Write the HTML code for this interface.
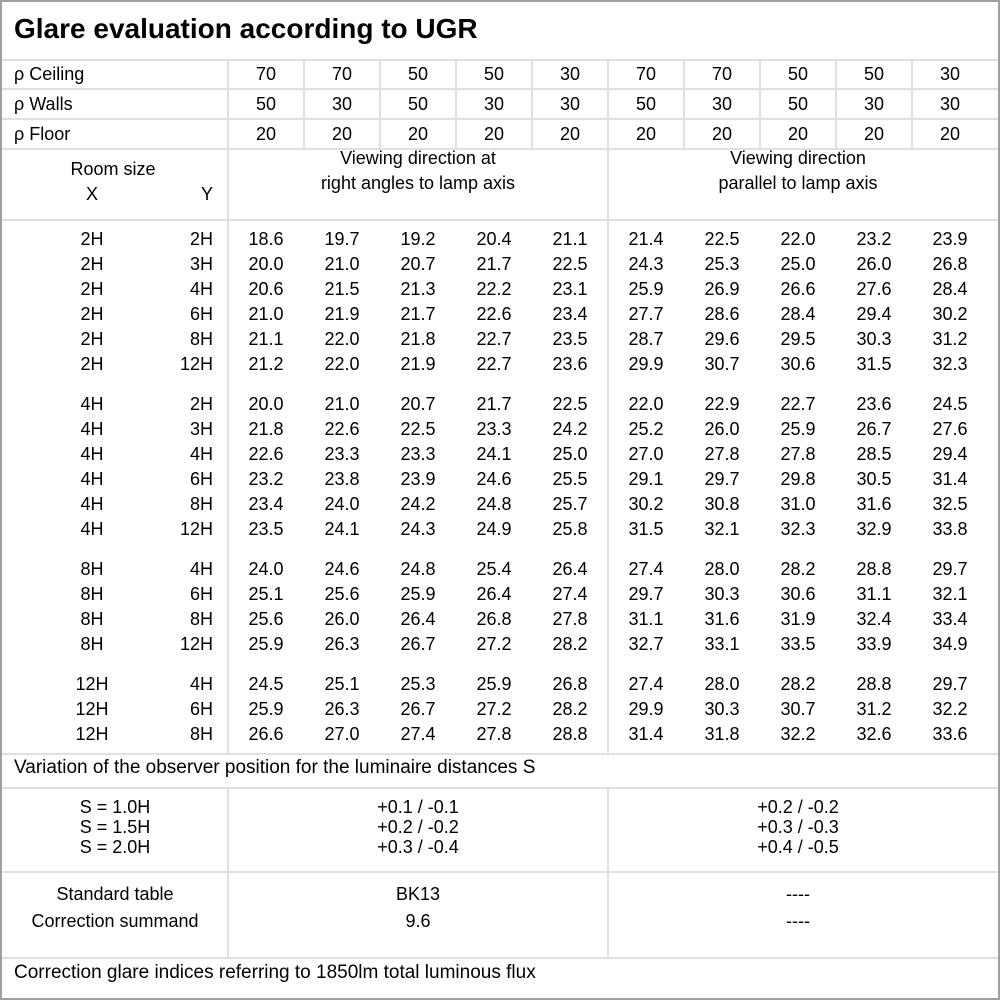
<!DOCTYPE html>
<html><head><meta charset="utf-8"><style>
*{margin:0;padding:0}
body{width:1000px;height:1000px;background:#fff;position:relative;overflow:hidden;font-family:"Liberation Sans","DejaVu Sans",sans-serif;font-size:18px;color:#000}
.b{position:absolute;left:0;top:0;width:996px;height:996px;border:2px solid #a0a0a0}
.h{position:absolute;left:2px;width:996px;height:2px;background:#e0e0e0}
.v{position:absolute;width:2px;background:#e0e0e0}
.t{position:absolute;line-height:22px;white-space:nowrap}
.r{position:absolute;left:0;width:1000px;height:22px}
.r span{position:absolute;top:0;line-height:22px;width:80px;text-align:center}
.r .x{left:52px}.r .y{left:133px;text-align:right}
.c1{left:226px}.c2{left:302px}.c3{left:378px}.c4{left:454px}.c5{left:530px}
.c6{left:606px}.c7{left:682px}.c8{left:758px}.c9{left:834px}.c10{left:910px}
.cen{position:absolute;text-align:center;line-height:20px}
</style></head><body>
<div class="b"></div>
<div class="h" style="top:59px"></div>
<div class="h" style="top:88px"></div>
<div class="h" style="top:118px"></div>
<div class="h" style="top:148px"></div>
<div class="h" style="top:219px"></div>
<div class="h" style="top:753px"></div>
<div class="h" style="top:787px"></div>
<div class="h" style="top:871px"></div>
<div class="h" style="top:957px"></div>
<div class="v" style="left:227px;top:60px;height:694px"></div>
<div class="v" style="left:607px;top:60px;height:694px"></div>
<div class="v" style="left:303px;top:60px;height:89px"></div>
<div class="v" style="left:379px;top:60px;height:89px"></div>
<div class="v" style="left:455px;top:60px;height:89px"></div>
<div class="v" style="left:531px;top:60px;height:89px"></div>
<div class="v" style="left:683px;top:60px;height:89px"></div>
<div class="v" style="left:759px;top:60px;height:89px"></div>
<div class="v" style="left:835px;top:60px;height:89px"></div>
<div class="v" style="left:911px;top:60px;height:89px"></div>
<div class="v" style="left:227px;top:788px;height:170px"></div>
<div class="v" style="left:607px;top:788px;height:170px"></div>

<div class="t" style="left:14px;top:13px;font-size:28px;font-weight:bold;line-height:32px">Glare evaluation according to UGR</div>

<div class="r" style="top:63px"><span style="left:14px;text-align:left;width:200px">ρ Ceiling</span><span class="c1">70</span><span class="c2">70</span><span class="c3">50</span><span class="c4">50</span><span class="c5">30</span><span class="c6">70</span><span class="c7">70</span><span class="c8">50</span><span class="c9">50</span><span class="c10">30</span></div>
<div class="r" style="top:93px"><span style="left:14px;text-align:left;width:200px">ρ Walls</span><span class="c1">50</span><span class="c2">30</span><span class="c3">50</span><span class="c4">30</span><span class="c5">30</span><span class="c6">50</span><span class="c7">30</span><span class="c8">50</span><span class="c9">30</span><span class="c10">30</span></div>
<div class="r" style="top:123px"><span style="left:14px;text-align:left;width:200px">ρ Floor</span><span class="c1">20</span><span class="c2">20</span><span class="c3">20</span><span class="c4">20</span><span class="c5">20</span><span class="c6">20</span><span class="c7">20</span><span class="c8">20</span><span class="c9">20</span><span class="c10">20</span></div>

<div class="t" style="left:13px;top:158px;width:200px;text-align:center">Room size</div>
<div class="r" style="top:183px"><span class="x">X</span><span class="y">Y</span></div>
<div class="cen" style="left:229px;top:146px;width:378px;line-height:25px">Viewing direction at<br>right angles to lamp axis</div>
<div class="cen" style="left:609px;top:146px;width:378px;line-height:25px">Viewing direction<br>parallel to lamp axis</div>

<div class="r" style="top:228px"><span class="x">2H</span><span class="y">2H</span><span class="c1">18.6</span><span class="c2">19.7</span><span class="c3">19.2</span><span class="c4">20.4</span><span class="c5">21.1</span><span class="c6">21.4</span><span class="c7">22.5</span><span class="c8">22.0</span><span class="c9">23.2</span><span class="c10">23.9</span></div>
<div class="r" style="top:253px"><span class="x">2H</span><span class="y">3H</span><span class="c1">20.0</span><span class="c2">21.0</span><span class="c3">20.7</span><span class="c4">21.7</span><span class="c5">22.5</span><span class="c6">24.3</span><span class="c7">25.3</span><span class="c8">25.0</span><span class="c9">26.0</span><span class="c10">26.8</span></div>
<div class="r" style="top:278px"><span class="x">2H</span><span class="y">4H</span><span class="c1">20.6</span><span class="c2">21.5</span><span class="c3">21.3</span><span class="c4">22.2</span><span class="c5">23.1</span><span class="c6">25.9</span><span class="c7">26.9</span><span class="c8">26.6</span><span class="c9">27.6</span><span class="c10">28.4</span></div>
<div class="r" style="top:303px"><span class="x">2H</span><span class="y">6H</span><span class="c1">21.0</span><span class="c2">21.9</span><span class="c3">21.7</span><span class="c4">22.6</span><span class="c5">23.4</span><span class="c6">27.7</span><span class="c7">28.6</span><span class="c8">28.4</span><span class="c9">29.4</span><span class="c10">30.2</span></div>
<div class="r" style="top:328px"><span class="x">2H</span><span class="y">8H</span><span class="c1">21.1</span><span class="c2">22.0</span><span class="c3">21.8</span><span class="c4">22.7</span><span class="c5">23.5</span><span class="c6">28.7</span><span class="c7">29.6</span><span class="c8">29.5</span><span class="c9">30.3</span><span class="c10">31.2</span></div>
<div class="r" style="top:353px"><span class="x">2H</span><span class="y">12H</span><span class="c1">21.2</span><span class="c2">22.0</span><span class="c3">21.9</span><span class="c4">22.7</span><span class="c5">23.6</span><span class="c6">29.9</span><span class="c7">30.7</span><span class="c8">30.6</span><span class="c9">31.5</span><span class="c10">32.3</span></div>

<div class="r" style="top:393px"><span class="x">4H</span><span class="y">2H</span><span class="c1">20.0</span><span class="c2">21.0</span><span class="c3">20.7</span><span class="c4">21.7</span><span class="c5">22.5</span><span class="c6">22.0</span><span class="c7">22.9</span><span class="c8">22.7</span><span class="c9">23.6</span><span class="c10">24.5</span></div>
<div class="r" style="top:418px"><span class="x">4H</span><span class="y">3H</span><span class="c1">21.8</span><span class="c2">22.6</span><span class="c3">22.5</span><span class="c4">23.3</span><span class="c5">24.2</span><span class="c6">25.2</span><span class="c7">26.0</span><span class="c8">25.9</span><span class="c9">26.7</span><span class="c10">27.6</span></div>
<div class="r" style="top:443px"><span class="x">4H</span><span class="y">4H</span><span class="c1">22.6</span><span class="c2">23.3</span><span class="c3">23.3</span><span class="c4">24.1</span><span class="c5">25.0</span><span class="c6">27.0</span><span class="c7">27.8</span><span class="c8">27.8</span><span class="c9">28.5</span><span class="c10">29.4</span></div>
<div class="r" style="top:468px"><span class="x">4H</span><span class="y">6H</span><span class="c1">23.2</span><span class="c2">23.8</span><span class="c3">23.9</span><span class="c4">24.6</span><span class="c5">25.5</span><span class="c6">29.1</span><span class="c7">29.7</span><span class="c8">29.8</span><span class="c9">30.5</span><span class="c10">31.4</span></div>
<div class="r" style="top:493px"><span class="x">4H</span><span class="y">8H</span><span class="c1">23.4</span><span class="c2">24.0</span><span class="c3">24.2</span><span class="c4">24.8</span><span class="c5">25.7</span><span class="c6">30.2</span><span class="c7">30.8</span><span class="c8">31.0</span><span class="c9">31.6</span><span class="c10">32.5</span></div>
<div class="r" style="top:518px"><span class="x">4H</span><span class="y">12H</span><span class="c1">23.5</span><span class="c2">24.1</span><span class="c3">24.3</span><span class="c4">24.9</span><span class="c5">25.8</span><span class="c6">31.5</span><span class="c7">32.1</span><span class="c8">32.3</span><span class="c9">32.9</span><span class="c10">33.8</span></div>

<div class="r" style="top:558px"><span class="x">8H</span><span class="y">4H</span><span class="c1">24.0</span><span class="c2">24.6</span><span class="c3">24.8</span><span class="c4">25.4</span><span class="c5">26.4</span><span class="c6">27.4</span><span class="c7">28.0</span><span class="c8">28.2</span><span class="c9">28.8</span><span class="c10">29.7</span></div>
<div class="r" style="top:583px"><span class="x">8H</span><span class="y">6H</span><span class="c1">25.1</span><span class="c2">25.6</span><span class="c3">25.9</span><span class="c4">26.4</span><span class="c5">27.4</span><span class="c6">29.7</span><span class="c7">30.3</span><span class="c8">30.6</span><span class="c9">31.1</span><span class="c10">32.1</span></div>
<div class="r" style="top:608px"><span class="x">8H</span><span class="y">8H</span><span class="c1">25.6</span><span class="c2">26.0</span><span class="c3">26.4</span><span class="c4">26.8</span><span class="c5">27.8</span><span class="c6">31.1</span><span class="c7">31.6</span><span class="c8">31.9</span><span class="c9">32.4</span><span class="c10">33.4</span></div>
<div class="r" style="top:633px"><span class="x">8H</span><span class="y">12H</span><span class="c1">25.9</span><span class="c2">26.3</span><span class="c3">26.7</span><span class="c4">27.2</span><span class="c5">28.2</span><span class="c6">32.7</span><span class="c7">33.1</span><span class="c8">33.5</span><span class="c9">33.9</span><span class="c10">34.9</span></div>

<div class="r" style="top:673px"><span class="x">12H</span><span class="y">4H</span><span class="c1">24.5</span><span class="c2">25.1</span><span class="c3">25.3</span><span class="c4">25.9</span><span class="c5">26.8</span><span class="c6">27.4</span><span class="c7">28.0</span><span class="c8">28.2</span><span class="c9">28.8</span><span class="c10">29.7</span></div>
<div class="r" style="top:698px"><span class="x">12H</span><span class="y">6H</span><span class="c1">25.9</span><span class="c2">26.3</span><span class="c3">26.7</span><span class="c4">27.2</span><span class="c5">28.2</span><span class="c6">29.9</span><span class="c7">30.3</span><span class="c8">30.7</span><span class="c9">31.2</span><span class="c10">32.2</span></div>
<div class="r" style="top:723px"><span class="x">12H</span><span class="y">8H</span><span class="c1">26.6</span><span class="c2">27.0</span><span class="c3">27.4</span><span class="c4">27.8</span><span class="c5">28.8</span><span class="c6">31.4</span><span class="c7">31.8</span><span class="c8">32.2</span><span class="c9">32.6</span><span class="c10">33.6</span></div>

<div class="t" style="left:14px;top:757px;font-size:19px">Variation of the observer position for the luminaire distances S</div>
<div class="cen" style="left:2px;top:797px;width:226px">S = 1.0H<br>S = 1.5H<br>S = 2.0H</div>
<div class="cen" style="left:229px;top:797px;width:378px">+0.1 / -0.1<br>+0.2 / -0.2<br>+0.3 / -0.4</div>
<div class="cen" style="left:609px;top:797px;width:378px">+0.2 / -0.2<br>+0.3 / -0.3<br>+0.4 / -0.5</div>
<div class="cen" style="left:2px;top:881px;width:226px;line-height:27px">Standard table<br>Correction summand</div>
<div class="cen" style="left:229px;top:881px;width:378px;line-height:27px">BK13<br>9.6</div>
<div class="cen" style="left:609px;top:881px;width:378px;line-height:27px">----<br>----</div>
<div class="t" style="left:14px;top:962px;font-size:19px">Correction glare indices referring to 1850lm total luminous flux</div>
</body></html>
